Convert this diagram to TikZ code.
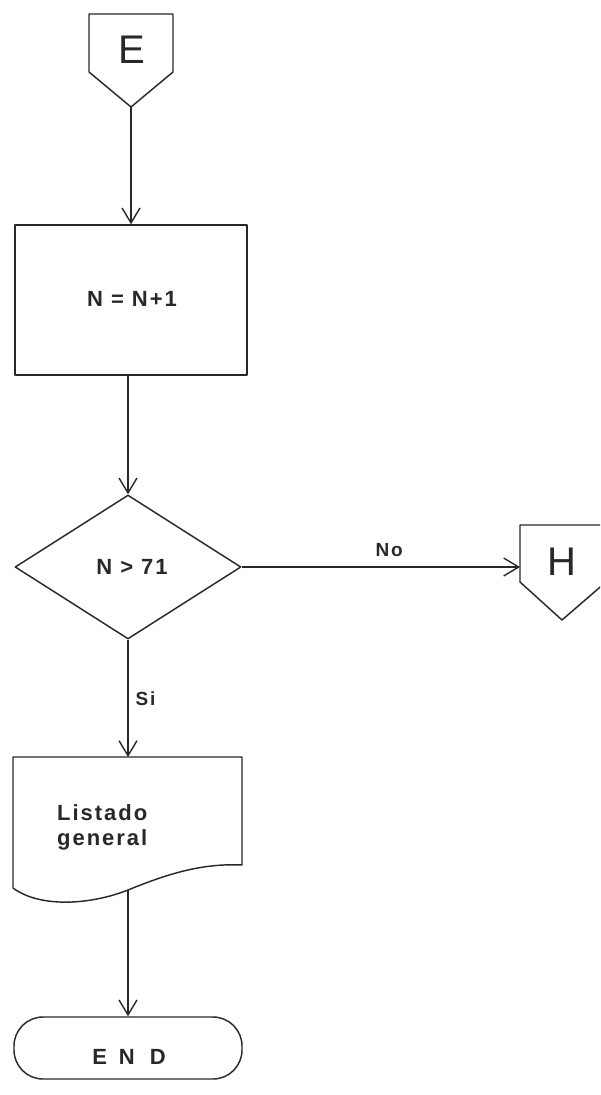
\documentclass[tikz,border=0pt]{standalone}
\usepackage{fontspec}
\setmainfont{Liberation Sans}
\newfontfamily\lettering[LetterSpace=9]{Liberation Sans}
\usetikzlibrary{arrows.meta,shapes.geometric}
\definecolor{ink}{RGB}{40,40,40}

\begin{document}
\begin{tikzpicture}[x=1pt,y=-1pt,
  outline/.style={draw=ink, line width=1.45pt, line join=round},
  flow/.style={draw=ink, line width=1.4pt,
    -{Straight Barb[length=15pt,width=18pt,line width=1.4pt]}},
  txt/.style={text=ink, inner sep=0pt,
    font=\fontsize{22}{25}\selectfont\bfseries\lettering},
  small/.style={text=ink, inner sep=0pt,
    font=\fontsize{19}{21}\selectfont\bfseries\lettering},
  big/.style={text=ink, inner sep=0pt,
    font=\fontsize{40}{44}\selectfont},
]
\useasboundingbox (0,0) rectangle (600,1095);
\clip (0,0) rectangle (600,1095);

% entry connector E
\draw[outline] (89,14) -- (173,14) -- (173,72) -- (131,107) -- (89,72) -- cycle;
\node[big] (E) at (132,50) {E};
\coordinate (Etip) at (131,107);

% process box
\node[outline, rectangle, minimum width=232pt, minimum height=150pt, inner sep=0pt]
  (inc) at (131,300) {};
\node[txt] (inctext) at (132,299) {N = N+1};

% decision
\node[outline, diamond, minimum width=226pt, minimum height=144pt, inner sep=0pt]
  (test) at (128,567) {};
\node[txt] (testtext) at (132,567) {N > 71};

% exit connector H
\draw[outline] (520,525) -- (606,525) -- (606,582) -- (562,620) -- (520,582) -- cycle;
\node[big] (H) at (562,562) {H};
\coordinate (Hin) at (520,567);

% printed report
\draw[outline] (13,757) -- (242,757) -- (242,865)
  .. controls (200,863) and (165,875) .. (128,890)
  .. controls (90,905) and (40,908) .. (13,888) -- cycle;
\coordinate (docTop) at (128,757);
\coordinate (docBot) at (128,890);
\node[txt, anchor=north west, align=left] (listado) at (57,804) {Listado\\general};

% terminator
\node[outline, rectangle, rounded corners=29pt, minimum width=228pt,
  minimum height=62pt, inner sep=0pt] (end) at (128,1048) {};
\node[txt] (endtext) at (129,1057) {E\hspace{12pt}N\hspace{15pt}D};

% connectors
\draw[flow] (Etip) -- (inc.north -| Etip);
\draw[flow] (inc.south -| test.north) -- (test.north);
\draw[flow] (test.east) -- node[small, pos=0.53, above=10pt] (no) {No} (Hin);
\draw[flow] (test.south) -- node[small, pos=0.5, anchor=west, xshift=7pt] (si) {Si} (docTop);
\draw[flow] (docBot) -- (end.north);
\end{tikzpicture}
\end{document}
